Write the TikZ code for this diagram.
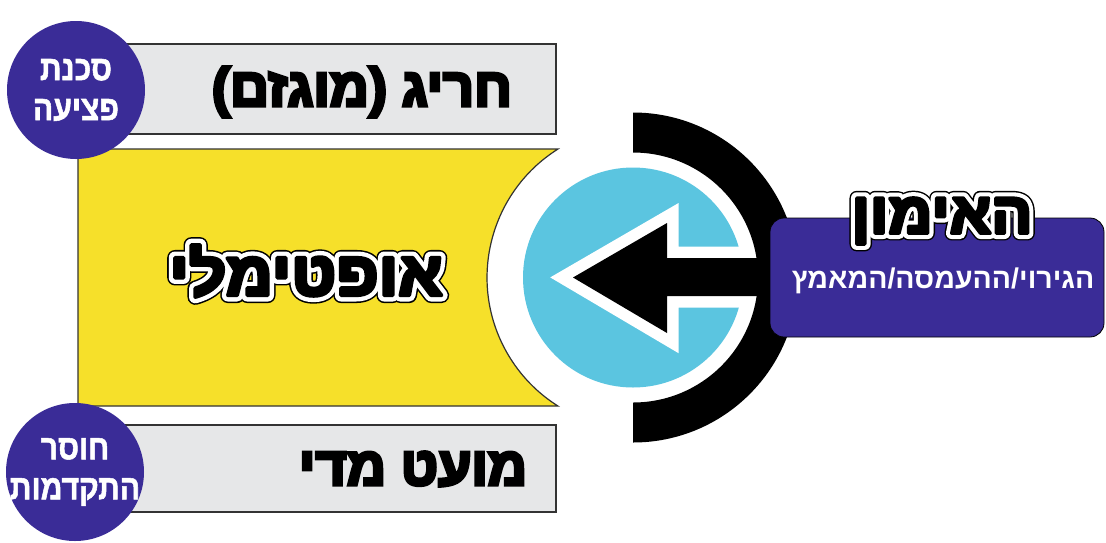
\documentclass[tikz,border=0pt]{standalone}
\usepackage{fontspec}
\usetikzlibrary{calc}
\TeXXeTstate=1
\setmainfont{Liberation Sans}
\newfontfamily\heb[Script=Hebrew]{Liberation Sans}
\newfontfamily\hebcond[Script=Hebrew,BoldFeatures={FakeStretch=0.86,FakeBold=1.5}]{Liberation Sans}
\newfontfamily\hebheavy[Script=Hebrew,BoldFeatures={FakeBold=6}]{Liberation Sans}
\newfontfamily\hebwide[Script=Hebrew,BoldFeatures={FakeBold=6,FakeStretch=1.05}]{Liberation Sans}
\newfontfamily\hebOW[Script=Hebrew,BoldFeatures={FakeBold=20,FakeStretch=1.05}]{Liberation Sans}
\newfontfamily\hebOB[Script=Hebrew,BoldFeatures={FakeBold=25,FakeStretch=1.05}]{Liberation Sans}
\definecolor{purp}{HTML}{3A2C97}
\definecolor{skyb}{HTML}{5BC5E0}
\definecolor{yel}{HTML}{F6E02A}
\definecolor{lgray}{HTML}{E6E7E8}
\definecolor{edge}{HTML}{333333}
\newcommand\outlinedtext[1]{\sbox0{#1}%
  \makebox[0pt][l]{\makebox[\wd0][c]{\hebOB\color{black}#1}}%
  \makebox[0pt][l]{\makebox[\wd0][c]{\hebOW\color{white}#1}}%
  {\color{black}#1}}
\tikzset{
  graybox/.style={fill=lgray,draw=edge,line width=1.2pt},
  badcircle/.style={fill=purp,circle,minimum size=138pt,inner sep=0pt},
  circtext/.style={text=white,align=center,font=\hebcond\bfseries\fontsize{35}{40}\selectfont},
  boxtext/.style={text=black,font=\hebheavy\bfseries\fontsize{54}{56}\selectfont},
  bigtext/.style={font=\hebwide\bfseries\fontsize{62}{64}\selectfont},
  titletext/.style={font=\hebwide\bfseries\fontsize{58}{60}\selectfont},
}
\begin{document}
\begin{tikzpicture}[x=1pt,y=-1pt]
\useasboundingbox (0,0) rectangle (1106,542);
\fill[white] (0,0) rectangle (1106,542);
% gray boxes
\draw[graybox] (100,44) rectangle (556,134);
\draw[graybox] (100,425) rectangle (556,512);
% yellow shape
\draw[fill=yel,draw=edge,line width=1.2pt] (78,149) -- (558,149) arc[start angle=237.8,end angle=122.2,radius=151.9] -- (78,406) -- cycle;
% circles
\node[badcircle] (c1) at (76,90) {};
\node[badcircle] (c2) at (75,472) {};
\node[circtext] (t1) at (c1) {\beginR סכנת\endR\\\beginR פציעה\endR};
\node[circtext] (t2) at (c2) {\beginR חוסר\endR\\\beginR התקדמות\endR};
% box texts
\node[boxtext] (top) at (362,92) {\beginR חריג (מוגזם)\endR};
\node[boxtext] (bot) at (413,469) {\beginR מועט מדי\endR};
% optimal
\begin{scope}[line join=round]
\node[bigtext] (optimal) at (306,271) {\outlinedtext{\beginR אופטימלי\endR}};
\end{scope}
% blue circle and arrow
\coordinate (rc) at (633,277.5);
\node[circle,fill=skyb,minimum size=220pt,inner sep=0pt] (blue) at (rc) {};
\draw[white,fill=black,line width=23pt,miter limit=10] (573,277.5) -- (667,223) -- (667,258) -- (775,258) -- (775,296) -- (667,296) -- (667,333) -- cycle;
\fill[black] (573,277.5) -- (667,223) -- (667,258) -- (775,258) -- (775,296) -- (667,296) -- (667,333) -- cycle;
% black ring
\fill[black] ($(rc)+(-90:165)$) arc[start angle=-90,end angle=90,radius=165] -- ($(rc)+(90:125)$) arc[start angle=90,end angle=-90,radius=125] -- cycle;
% purple box
\node[fill=purp,draw=black,line width=0.8pt,rounded corners=14pt,minimum width=334pt,minimum height=119pt,inner sep=0pt] (pbox) at (937,277.5) {};
\node[text=white,font=\heb\bfseries\fontsize{28.5}{30}\selectfont] (sub) at (943,281) {\beginR הגירוי/ההעמסה/המאמץ\endR};
\begin{scope}[line join=round]
\node[titletext] (title) at (942,221) {\outlinedtext{\beginR האימון\endR}};
\end{scope}
\end{tikzpicture}
\end{document}
